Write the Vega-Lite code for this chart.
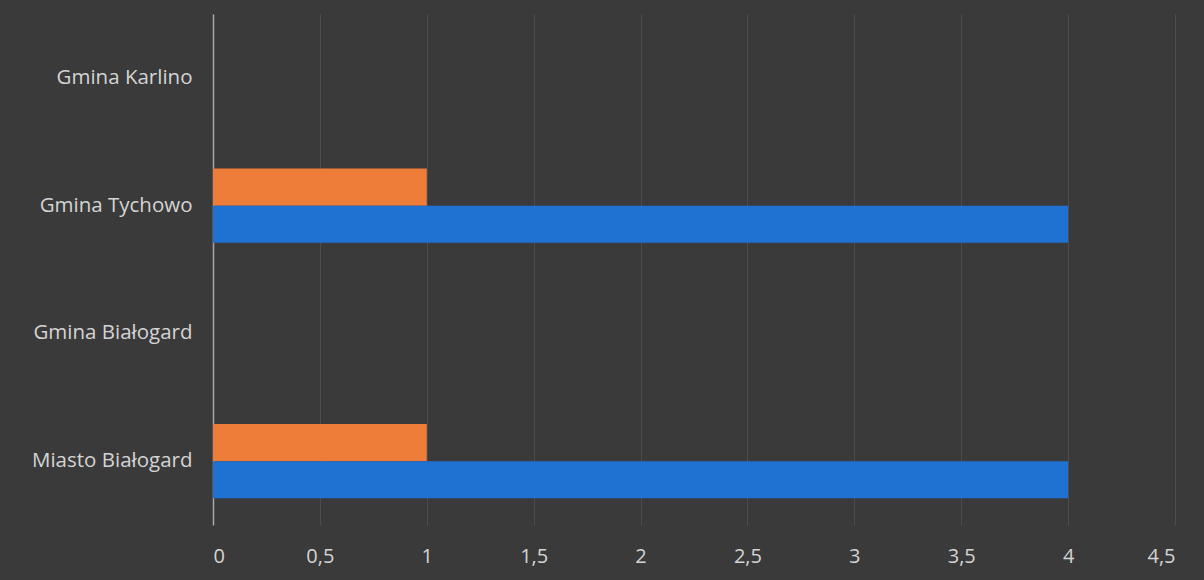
{
  "$schema": "https://vega.github.io/schema/vega-lite/v6.json",
  "autosize": {"type": "none"},
  "width": 962,
  "height": 511,
  "padding": {"left": 213, "top": 14, "right": 29, "bottom": 55},
  "background": "#3a3a3a",
  "data": {
    "values": [
      {"gmina": "Gmina Karlino", "seria": "A", "wartosc": 0},
      {"gmina": "Gmina Karlino", "seria": "B", "wartosc": 0},
      {"gmina": "Gmina Tychowo", "seria": "A", "wartosc": 1},
      {"gmina": "Gmina Tychowo", "seria": "B", "wartosc": 4},
      {"gmina": "Gmina Białogard", "seria": "A", "wartosc": 0},
      {"gmina": "Gmina Białogard", "seria": "B", "wartosc": 0},
      {"gmina": "Miasto Białogard", "seria": "A", "wartosc": 1},
      {"gmina": "Miasto Białogard", "seria": "B", "wartosc": 4}
    ]
  },
  "mark": {"type": "bar"},
  "encoding": {
    "y": {
      "field": "gmina",
      "type": "nominal",
      "sort": ["Gmina Karlino", "Gmina Tychowo", "Gmina Białogard", "Miasto Białogard"],
      "scale": {"paddingInner": 0.42, "paddingOuter": 0.21},
      "axis": {
        "title": null,
        "domain": true,
        "domainColor": "#a8a8a8",
        "domainWidth": 1.5,
        "ticks": false,
        "grid": false,
        "labelPadding": 21,
        "labelFont": "Open Sans",
        "labelFontSize": 20.5,
        "labelColor": "#d4d4d4"
      }
    },
    "yOffset": {"field": "seria", "type": "nominal", "sort": ["A", "B"]},
    "x": {
      "field": "wartosc",
      "type": "quantitative",
      "scale": {"domain": [0, 4.5], "nice": false},
      "axis": {
        "title": null,
        "values": [0, 0.5, 1, 1.5, 2, 2.5, 3, 3.5, 4, 4.5],
        "labelExpr": "replace(toString(datum.value), '.', ',')",
        "domain": false,
        "ticks": false,
        "grid": true,
        "gridColor": "#4c4c4c",
        "gridWidth": 1,
        "labelPadding": 21,
        "labelFont": "Open Sans",
        "labelFontSize": 20,
        "labelColor": "#d4d4d4"
      }
    },
    "color": {
      "field": "seria",
      "type": "nominal",
      "scale": {"domain": ["A", "B"], "range": ["#ef7d3a", "#1f72d2"]},
      "legend": null
    }
  },
  "config": {"view": {"stroke": null}}
}
